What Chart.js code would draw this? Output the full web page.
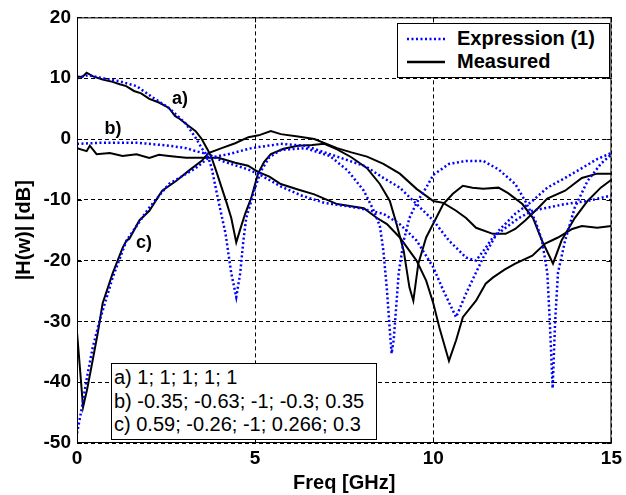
<!DOCTYPE html>
<html>
<head>
<meta charset="utf-8">
<title>|H(w)| vs frequency</title>
<script src="https://cdn.jsdelivr.net/npm/chart.js@4/dist/chart.umd.min.js"></script>
<style>
  body { margin: 0; background: #fff; }
  #wrap { position: relative; width: 626px; height: 495px; font-family: 'Liberation Sans', Arial, sans-serif; }
  #chart { position: absolute; left: 0; top: 0; }
  .legend {
    position: absolute; left: 397px; top: 23px; width: 213px; height: 55px;
    box-sizing: border-box; border: 1px solid #000; background: #fff;
  }
  .legend .row { position: absolute; left: 0; height: 23px; line-height: 23px; font-size: 20px; font-weight: bold; }
  .legend svg { position: absolute; left: 9px; top: 10px; }
  .legend span { position: absolute; left: 59px; white-space: nowrap; }
  .note {
    position: absolute; left: 111px; top: 363px; width: 266px; height: 77px;
    box-sizing: border-box; border: 1px solid #000; background: #fff;
    padding: 2px 0 0 2px; font-size: 20px; line-height: 23.5px; white-space: nowrap;
  }
  .tag { position: absolute; font-size: 18px; font-weight: bold; line-height: 1; transform: translate(-50%, -50%); }
</style>
</head>
<body>
<div id="wrap">
  <canvas id="chart" width="626" height="495"></canvas>
  <div class="legend">
    <div class="row" style="top:3px;width:100%">
      <svg width="38" height="4"><line x1="0" y1="2" x2="38" y2="2" stroke="#0000ff" stroke-width="2.5" stroke-dasharray="2,2.5"/></svg>
      <span>Expression (1)</span>
    </div>
    <div class="row" style="top:26px;width:100%">
      <svg width="38" height="4"><line x1="0" y1="2" x2="38" y2="2" stroke="#000" stroke-width="2.5"/></svg>
      <span>Measured</span>
    </div>
  </div>
  <div class="note">
    <div>a) 1; 1; 1; 1; 1</div>
    <div>b) -0.35; -0.63; -1; -0.3; 0.35</div>
    <div>c) 0.59; -0.26; -1; 0.266; 0.3</div>
  </div>
  <div class="tag" style="left:180px;top:98px">a)</div>
  <div class="tag" style="left:113px;top:128px">b)</div>
  <div class="tag" style="left:144px;top:242px">c)</div>
</div>
<script>
// tick labels
const xTicks = [0, 5, 10, 15];
const yTicks = [20, 10, 0, -10, -20, -30, -40, -50];

// case a) measured
const freqMeasA = [0, 0.15, 0.27, 0.45, 0.72, 1.0, 1.2, 1.38, 1.6, 1.8, 2.03, 2.3, 2.58, 2.75, 2.86, 3.1, 3.33, 3.5, 3.69, 3.78, 3.92, 4.06, 4.2, 4.33, 4.47, 4.6, 4.72, 4.89, 5.08, 5.25, 5.44, 5.8, 6.2, 6.6, 6.94, 7.3, 7.7, 8.14, 8.5, 8.78, 8.97, 9.17, 9.33, 9.44, 9.58, 9.8, 10.08, 10.28, 10.55, 10.83, 11.1, 11.4, 11.83, 12.1, 12.5, 12.8, 13.05, 13.36, 13.6, 13.97, 14.33, 14.7, 15];
const magMeasA = [10.3, 10.2, 10.9, 10.3, 9.8, 9.4, 9.0, 8.7, 7.9, 7.5, 6.6, 6.0, 5.1, 3.8, 3.4, 2.3, 1.3, 0.0, -2.0, -3.1, -5.5, -8.0, -10.5, -13.0, -17.0, -14.5, -12.3, -9.7, -5.7, -3.8, -2.5, -1.6, -1.1, -1.0, -0.8, -1.7, -3.0, -4.8, -7.4, -10.2, -14.0, -18.4, -24.4, -26.6, -20.5, -16.2, -13.0, -10.7, -9.0, -7.7, -8.0, -8.2, -8.0, -8.9, -10.7, -13.0, -16.7, -20.5, -16.7, -13.0, -10.2, -8.0, -6.7];

// case a) expression (1)
const freqExprA = [0, 0.3, 0.72, 1.19, 1.67, 2.11, 2.58, 3.06, 3.33, 3.5, 3.69, 3.78, 3.97, 4.17, 4.33, 4.47, 4.58, 4.67, 4.75, 5.0, 5.17, 5.4, 5.72, 6.4, 7.1, 7.6, 8.05, 8.33, 8.5, 8.6, 8.7, 8.78, 8.83, 8.89, 9.03, 9.17, 9.33, 9.53, 9.8, 10.0, 10.44, 10.92, 11.4, 11.83, 12.3, 12.58, 12.86, 13.05, 13.2, 13.27, 13.35, 13.42, 13.5, 13.7, 13.97, 14.33, 14.7, 15];
const magExprA = [10.0, 10.5, 10.0, 9.5, 8.7, 6.9, 5.1, 2.5, 0.2, -1.5, -3.1, -4.8, -10.2, -15.6, -22.1, -26.0, -22.1, -16.7, -13.0, -8.0, -5.2, -3.0, -1.8, -1.5, -2.8, -5.2, -8.5, -11.8, -14.3, -18.4, -24.9, -31.5, -35.3, -33.0, -22.0, -16.7, -13.0, -10.5, -8.0, -5.9, -4.1, -3.6, -3.6, -5.0, -7.4, -10.2, -13.4, -16.7, -22.0, -30.0, -41.0, -30.0, -22.0, -16.7, -11.3, -6.9, -4.1, -2.5];

// case b) measured
const freqMeasB = [0, 0.27, 0.36, 0.55, 0.92, 1.28, 1.67, 2.03, 2.3, 2.58, 3.06, 3.5, 3.97, 4.44, 4.8, 5.08, 5.4, 5.72, 6.2, 6.66, 7.3, 8.05, 8.42, 8.7, 9.06, 9.53, 9.8, 10.0, 10.17, 10.44, 10.64, 10.83, 11.2, 11.47, 11.67, 12.0, 12.3, 12.78, 13.14, 13.5, 13.9, 14.17, 14.6, 15];
const magMeasB = [-1.5, -2.0, -1.1, -2.5, -2.3, -2.8, -2.5, -3.1, -2.6, -2.8, -3.1, -3.1, -3.1, -3.9, -4.4, -5.4, -6.2, -7.4, -8.3, -9.1, -10.7, -11.4, -13.0, -14.0, -16.2, -20.0, -23.3, -27.0, -31.0, -36.5, -33.1, -29.3, -26.6, -23.8, -22.8, -21.5, -20.5, -19.2, -17.2, -16.2, -14.8, -14.3, -14.6, -14.3];

// case b) expression (1)
const freqExprB = [0, 0.72, 1.67, 2.58, 3.06, 3.33, 3.69, 4.06, 4.8, 5.08, 5.72, 6.3, 6.94, 7.86, 8.6, 9.06, 9.53, 10.0, 10.28, 10.64, 10.92, 11.4, 11.83, 12.3, 12.78, 13.2, 13.7, 14.17, 14.6, 15];
const magExprB = [-0.8, -0.6, -0.6, -1.1, -1.5, -2.0, -2.5, -3.6, -5.0, -5.7, -7.8, -9.3, -10.5, -11.3, -12.3, -14.0, -16.7, -21.1, -24.9, -29.3, -25.4, -19.5, -15.1, -12.3, -10.2, -8.0, -6.4, -4.8, -3.3, -2.3];

// case c) measured
const freqMeasC = [0, 0.08, 0.17, 0.28, 0.44, 0.58, 0.72, 1.0, 1.28, 1.39, 1.47, 1.75, 2.03, 2.39, 2.78, 3.14, 3.5, 3.69, 4.06, 4.44, 4.81, 5.1, 5.44, 5.72, 6.2, 6.66, 7.3, 7.7, 8.14, 8.6, 9.06, 9.53, 10.0, 10.28, 10.64, 10.92, 11.2, 11.67, 12.03, 12.3, 12.58, 12.95, 13.2, 13.7, 14.17, 14.6, 15];
const magMeasC = [-31.8, -37.5, -44.1, -41.3, -36.4, -32.0, -27.0, -22.1, -17.9, -16.7, -16.4, -13.4, -11.8, -8.5, -6.9, -5.2, -3.6, -2.3, -1.5, -0.7, 0.3, 0.6, 1.3, 0.8, 0.4, 0.0, -1.5, -2.2, -2.9, -4.1, -5.7, -8.2, -10.2, -10.5, -11.8, -13.0, -14.6, -15.6, -15.6, -14.8, -13.4, -11.3, -9.8, -8.5, -6.4, -5.7, -5.7];

// case c) expression (1)
const freqExprC = [0, 0.14, 0.28, 0.44, 0.64, 1.0, 1.39, 2.0, 2.58, 3.33, 3.69, 4.25, 4.9, 5.72, 6.4, 7.1, 8.1, 8.6, 9.06, 9.53, 10.0, 10.44, 10.92, 11.2, 11.47, 11.67, 12.03, 12.4, 12.78, 13.2, 13.7, 14.33, 15];
const magExprC = [-48.4, -44.1, -39.2, -34.3, -29.8, -22.8, -16.7, -11.5, -7.4, -4.8, -3.1, -2.5, -1.5, -0.8, -1.1, -2.5, -4.5, -6.4, -8.0, -10.7, -13.4, -16.7, -19.5, -20.0, -17.9, -16.2, -14.6, -13.0, -11.8, -11.3, -10.7, -10.2, -9.3];

function toPoints(xs, ys) {
    return xs.map((x, i) => ({ x: x, y: ys[i] }));
}

const exprStyle = { borderColor: '#0000ff', borderWidth: 2.5, borderDash: [2, 2.5] };
const measStyle = { borderColor: '#000000', borderWidth: 2 };

const fontFamily = "'Liberation Sans', Arial, sans-serif";

// frame round the plot with inward tick marks, like the original
const frame = {
    id: 'frame',
    afterDatasetsDraw(chart) {
        const { ctx, chartArea: a, scales } = chart;
        ctx.save();
        ctx.strokeStyle = '#000';
        ctx.lineWidth = 1;
        ctx.setLineDash([]);
        ctx.strokeRect(a.left + 0.5, a.top + 0.5, a.right - a.left - 1, a.bottom - a.top - 1);
        ctx.beginPath();
        xTicks.forEach(v => {
            const px = Math.round(scales.x.getPixelForValue(v)) + 0.5;
            ctx.moveTo(px, a.bottom); ctx.lineTo(px, a.bottom - 5);
            ctx.moveTo(px, a.top); ctx.lineTo(px, a.top + 5);
        });
        yTicks.forEach(v => {
            const py = Math.round(scales.y.getPixelForValue(v)) + 0.5;
            ctx.moveTo(a.left, py); ctx.lineTo(a.left + 5, py);
            ctx.moveTo(a.right, py); ctx.lineTo(a.right - 5, py);
        });
        ctx.stroke();
        ctx.restore();
    }
};

const ctx = document.getElementById('chart').getContext('2d');
const chart = new Chart(ctx, {
    type: 'line',
    data: {
        datasets: [
            { label: 'Expression (1) a', data: toPoints(freqExprA, magExprA), ...exprStyle },
            { label: 'Expression (1) b', data: toPoints(freqExprB, magExprB), ...exprStyle },
            { label: 'Expression (1) c', data: toPoints(freqExprC, magExprC), ...exprStyle },
            { label: 'Measured a', data: toPoints(freqMeasA, magMeasA), ...measStyle },
            { label: 'Measured b', data: toPoints(freqMeasB, magMeasB), ...measStyle },
            { label: 'Measured c', data: toPoints(freqMeasC, magMeasC), ...measStyle }
        ]
    },
    options: {
        responsive: false,
        animation: false,
        devicePixelRatio: 1,
        layout: { padding: { left: 0, top: 16, right: 9, bottom: 0 } },
        elements: { point: { radius: 0 }, line: { tension: 0, fill: false } },
        plugins: { legend: { display: false }, tooltip: { enabled: false } },
        scales: {
            x: {
                type: 'linear',
                min: 0,
                max: 15,
                afterBuildTicks: s => { s.ticks = xTicks.map(v => ({ value: v })); },
                afterFit: s => { s.height = 52; },
                ticks: {
                    color: '#000', padding: 4, maxRotation: 0,
                    font: { family: fontFamily, size: 19, weight: 'bold' },
                    callback: v => String(v)
                },
                grid: { color: '#000', lineWidth: 1, drawTicks: false },
                border: { display: false, dash: [4, 3] },
                title: {
                    display: true, text: 'Freq [GHz]', color: '#000',
                    font: { family: fontFamily, size: 20, weight: 'bold' },
                    padding: { top: 0, bottom: 0 }
                }
            },
            y: {
                type: 'linear',
                min: -50,
                max: 20,
                afterBuildTicks: s => { s.ticks = yTicks.slice().reverse().map(v => ({ value: v })); },
                afterFit: s => { s.width = 77; },
                ticks: {
                    color: '#000', padding: 6,
                    font: { family: fontFamily, size: 19, weight: 'bold' },
                    callback: v => String(v)
                },
                grid: { color: '#000', lineWidth: 1, drawTicks: false },
                border: { display: false, dash: [4, 3] },
                title: {
                    display: true, text: '|H(w)| [dB]', color: '#000',
                    font: { family: fontFamily, size: 20, weight: 'bold' },
                    padding: { top: 12, bottom: 0 }
                }
            }
        }
    },
    plugins: [frame]
});
</script>
</body>
</html>
